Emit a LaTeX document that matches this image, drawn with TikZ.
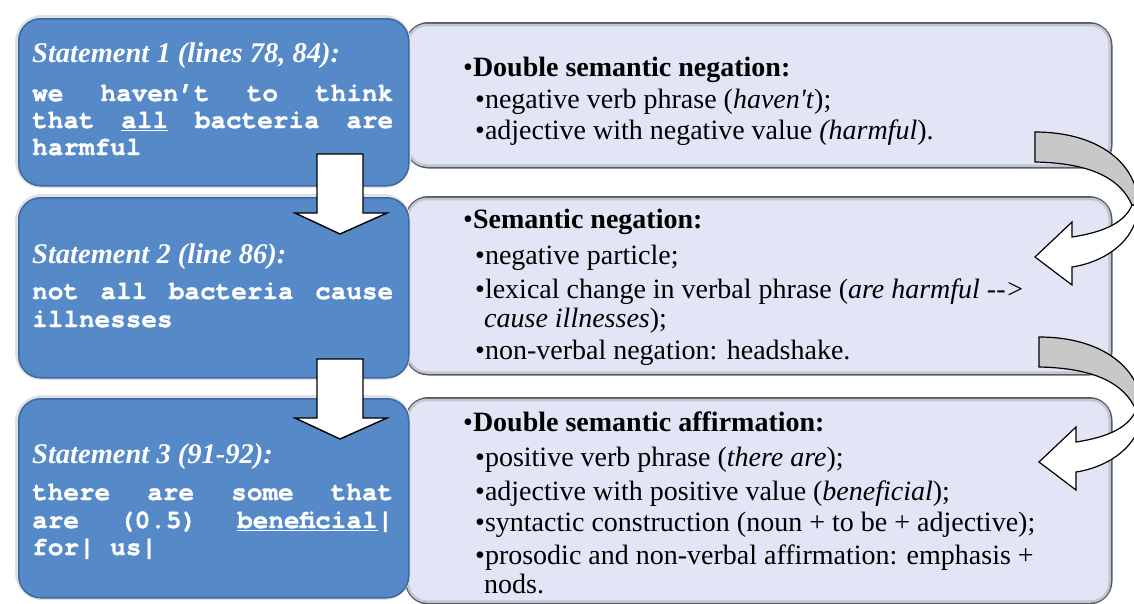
\documentclass[tikz,border=0pt]{standalone}
\usepackage{fontspec}
\setmainfont{Liberation Serif}
\newfontfamily\codefont{texgyrecursor}[Extension=.otf, UprightFont=*-regular, BoldFont=*-bold, BoldFeatures={FakeBold=1.2}]
\definecolor{sblue}{HTML}{5589C8}
\definecolor{bedge}{HTML}{3E679E}
\definecolor{glowc}{HTML}{DDE1E6}
\definecolor{lav}{HTML}{E2E5F5}
\definecolor{rborder}{HTML}{5A5C62}
\definecolor{rshade}{HTML}{C2C5D2}
\definecolor{agray}{HTML}{C8C8C8}
\begin{document}
\begin{tikzpicture}[x=1pt,y=-1pt,
  rbox/.style={fill=lav, draw=rborder, line width=2.5pt, rounded corners=22pt, anchor=north west, inner sep=0pt},
  rinner/.style={draw=rshade, line width=2.5pt, rounded corners=19pt},
  lbox/.style={fill=sblue, draw=bedge, line width=1.5pt, rounded corners=22pt, anchor=north west, inner sep=0pt},
  glow/.style={glowc, line width=6pt, rounded corners=24pt},
  lhead/.style={text=white, font=\bfseries\itshape\fontsize{28.5}{32}\selectfont, inner sep=0pt, anchor=base west},
  code/.style={text=white, font=\codefont\bfseries\fontsize{26}{28}\selectfont, inner sep=0pt, anchor=base west},
  rt/.style={text=black, font=\fontsize{28}{32}\selectfont, inner sep=0pt, anchor=base west},
  blockarrow/.style={fill=white, draw=black, line width=1.4pt, line join=miter},
  backpart/.style={fill=agray, draw=black, line width=1.2pt},
  frontpart/.style={fill=white, draw=black, line width=1.2pt}
]
\useasboundingbox (0,0) rectangle (1134,603);

% right boxes
\node[rbox, minimum width=705pt, minimum height=144pt] (R1) at (405,22) {};
\node[rbox, minimum width=705pt, minimum height=177pt] (R2) at (405,196) {};
\node[rbox, minimum width=705pt, minimum height=205pt] (R3) at (405,397) {};
\foreach \n in {R1,R2,R3}{
  \draw[rinner] ([shift={(3,3)}]\n.north west) rectangle ([shift={(-3,-3)}]\n.south east);
}

% left boxes (glow then box)
\foreach \y/\h/\n in {18/167/L1, 197/180/L2, 398/199/L3}{
  \draw[glow] (18,\y) rectangle ++(390,\h);
  \node[lbox, minimum width=390pt, minimum height=\h pt] (\n) at (18,\y) {};
}

% left texts
\node[lhead] (h1) at (32,62) {Statement 1 (lines 78, 84):};
\node[code] (c1a) at (32,101) {\makebox[361pt][s]{we haven’t to think}};
\node[code] (c1b) at (32,128) {\makebox[361pt][s]{that \underline{all} bacteria are}};
\node[code] (c1c) at (32,155) {harmful};

\node[lhead] (h2) at (32,263) {Statement 2 (line 86):};
\node[code] (c2a) at (32,299) {\makebox[361pt][s]{not all bacteria cause}};
\node[code] (c2b) at (32,327) {illnesses};

\node[lhead] (h3) at (32,463) {Statement 3 (91-92):};
\node[code] (c3a) at (32,500) {\makebox[361pt][s]{there are some that}};
\node[code] (c3b) at (32,528) {\makebox[361pt][s]{are (0.5) \underline{beneficial}|}};
\node[code] (c3c) at (32,555) {for| us|};

% right texts
\node[rt] (r1a) at (463,76) {•\textbf{Double semantic negation:}};
\node[rt] (r1b) at (475,108) {•negative verb phrase (\textit{haven\textquotesingle t});};
\node[rt] (r1c) at (475,139) {•adjective with negative value \textit{(harmful}).};

\node[rt] (r2a) at (463,228) {•\textbf{Semantic negation:}};
\node[rt] (r2b) at (475,264) {•negative particle;};
\node[rt] (r2c) at (475,298) {•lexical change in verbal phrase (\textit{are harmful \mbox{-}\mbox{-}\mbox{>}}};
\node[rt] (r2d) at (484,327) {\textit{cause illnesses});};
\node[rt] (r2e) at (475,359) {•non-verbal negation: headshake.};

\node[rt] (r3a) at (463,431) {•\textbf{Double semantic affirmation:}};
\node[rt] (r3b) at (475,466) {•positive verb phrase (\textit{there are});};
\node[rt] (r3c) at (475,500) {•adjective with positive value (\textit{beneficial});};
\node[rt] (r3d) at (475,531) {•syntactic construction (noun + to be + adjective);};
\node[rt] (r3e) at (475,564) {•prosodic and non-verbal affirmation: emphasis +};
\node[rt] (r3f) at (484,593) {nods.};

% down block arrows
\foreach \dy in {0,205}{
\begin{scope}[shift={(0,\dy)}]
\draw[blockarrow] (317,154) -- (363,154) -- (363,213) -- (387,213) -- (340,234) -- (295,213) -- (317,213) -- cycle;
\end{scope}
}

% curved arrows
\foreach \dx/\dy in {0/0, 4/205}{
\begin{scope}[shift={(\dx,\dy)}]
\draw[frontpart] (1138,205) .. controls (1138,240) and (1105,262) .. (1072,267) -- (1072,285) -- (1035,257)
   -- (1072,222) -- (1072,237) .. controls (1105,232) and (1125,222) .. (1132,205) -- cycle;
\draw[backpart] (1035,132) .. controls (1100,132) and (1138,165) .. (1138,205) -- (1132,205)
   .. controls (1120,178) and (1090,163) .. (1035,162) -- cycle;
\end{scope}
}
\end{tikzpicture}
\end{document}
